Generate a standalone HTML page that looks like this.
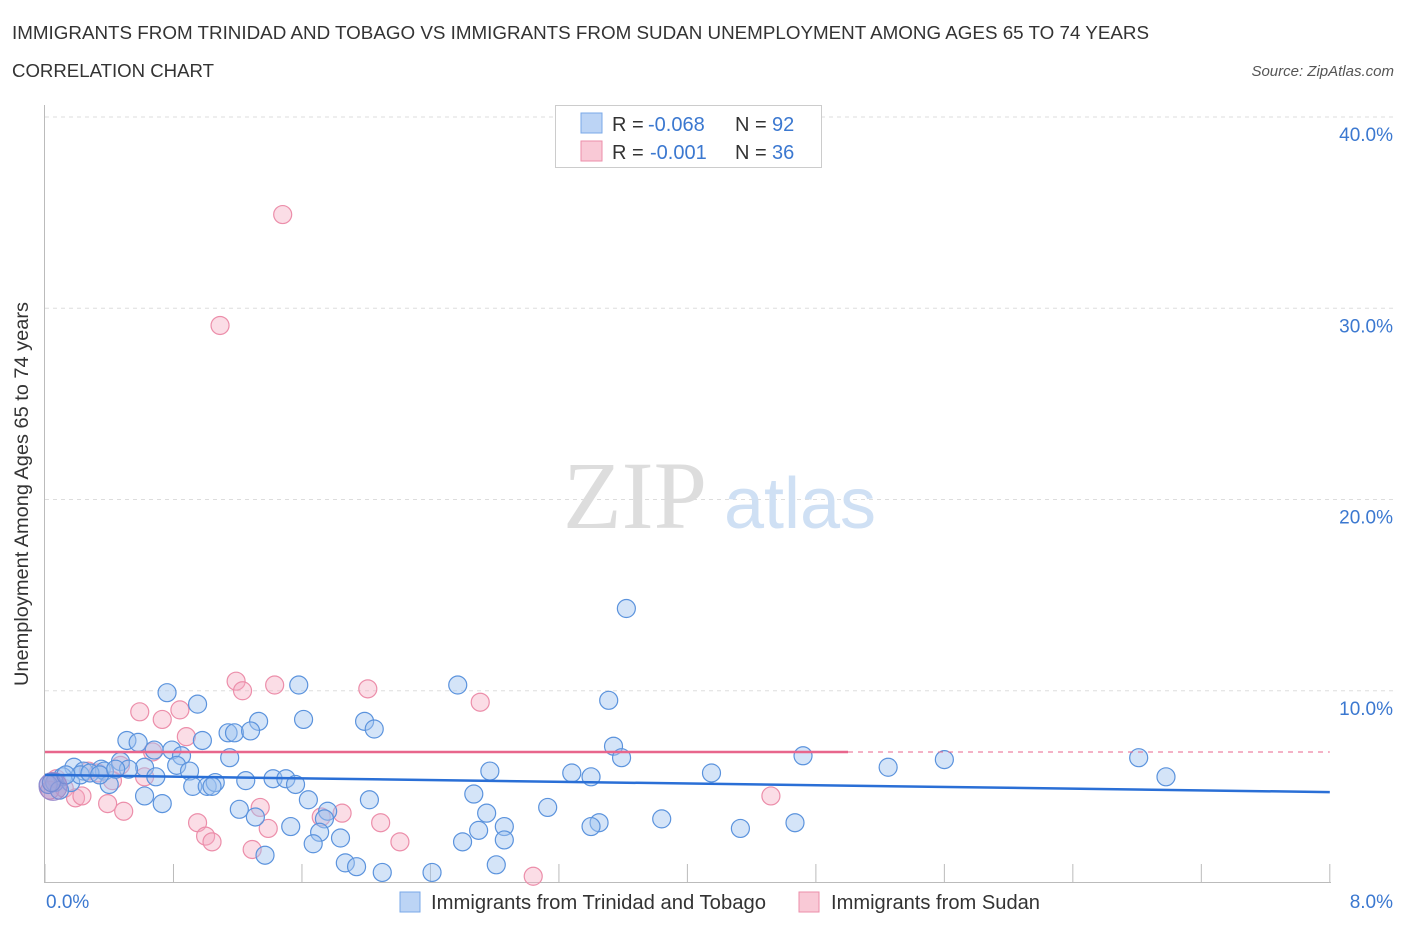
<!DOCTYPE html>
<html><head><meta charset="utf-8"><style>
body{margin:0;background:#fff;font-family:"Liberation Sans",sans-serif;}
svg{display:block}
</style></head><body>
<svg id="chart" width="1406" height="930" xmlns="http://www.w3.org/2000/svg">
<text x="12" y="39" font-size="18" fill="#333" textLength="1137" lengthAdjust="spacingAndGlyphs">IMMIGRANTS FROM TRINIDAD AND TOBAGO VS IMMIGRANTS FROM SUDAN UNEMPLOYMENT AMONG AGES 65 TO 74 YEARS</text>
<text x="12" y="77" font-size="18" fill="#333" textLength="202" lengthAdjust="spacingAndGlyphs">CORRELATION CHART</text>
<text x="1394" y="76" font-size="15" fill="#555" font-style="italic" text-anchor="end">Source: ZipAtlas.com</text>
<text x="28" y="494" font-size="19" fill="#333" text-anchor="middle" textLength="384" lengthAdjust="spacingAndGlyphs" transform="rotate(-90 28 494)">Unemployment Among Ages 65 to 74 years</text>
<g id="grid"></g>
<text x="635" y="528" font-size="96" fill="#ddd" font-family="Liberation Serif,serif" text-anchor="middle">ZIP</text>
<text x="800" y="528" font-size="72" fill="#cfe0f4" text-anchor="middle">atlas</text>
<g id="points"></g>
<g id="lines"></g>
<g>
<rect x="555.5" y="105.5" width="266" height="62" fill="#fff" stroke="#ccc"/>
<rect x="581" y="113" width="21" height="20" fill="#bcd4f5" stroke="#7aa8e8"/>
<text y="131" font-size="20" fill="#333"><tspan x="612">R =</tspan><tspan x="648" fill="#3b78d0">-0.068</tspan><tspan x="735">N =</tspan><tspan x="772" fill="#3b78d0">92</tspan></text>
<rect x="581" y="141" width="21" height="20" fill="#f9c9d6" stroke="#ec8eaa"/>
<text y="159" font-size="20" fill="#333"><tspan x="612">R =</tspan><tspan x="650" fill="#3b78d0">-0.001</tspan><tspan x="735">N =</tspan><tspan x="772" fill="#3b78d0">36</tspan></text>
</g>
<g>
<rect x="400" y="892" width="20" height="20" fill="#bcd4f5" stroke="#7aa8e8"/>
<text x="431" y="909" font-size="20" fill="#333" textLength="335" lengthAdjust="spacingAndGlyphs">Immigrants from Trinidad and Tobago</text>
<rect x="799" y="892" width="20" height="20" fill="#f9c9d6" stroke="#ec8eaa"/>
<text x="831" y="909" font-size="20" fill="#333" textLength="209" lengthAdjust="spacingAndGlyphs">Immigrants from Sudan</text>
</g>
</svg>
<script>
const xTicks=[0,1,2,3,4,5,6,7,8];
const yTicks=[10,20,30,40];
const blueX=[3.62,2.57,1.58,0.76,0.95,1.61,1.33,1.99,2.05,3.51,1.14,1.18,1.28,0.51,0.58,0.98,0.68,0.79,3.54,3.59,4.72,5.6,6.81,6.98,5.25,4.15,3.28,3.4,2.77,0.85,0.82,0.9,1.15,0.47,0.62,0.18,0.35,0.24,0.52,0.37,0.11,0.06,0.16,0.4,0.69,1.25,1.42,1.5,1.56,0.92,1.01,1.06,1.04,0.62,0.73,1.21,1.31,1.64,2.02,2.67,3.13,2.75,1.76,1.74,1.53,1.71,1.84,2.7,2.86,2.6,2.86,3.45,3.4,3.84,4.33,4.67,1.67,1.37,1.87,1.94,2.1,2.41,2.81,0.22,0.02,0.09,0.04,0.28,0.34,0.44,0.13];
const blueY=[14.3,10.3,10.3,9.9,9.3,8.5,8.4,8.4,8.0,9.5,7.8,7.8,7.9,7.4,7.3,7.4,6.9,6.9,7.1,6.5,6.6,6.4,6.5,5.5,6.0,5.7,5.7,5.5,5.8,6.6,6.1,5.8,6.5,6.3,6.0,6.0,5.9,5.8,5.9,5.8,5.5,5.2,5.2,5.1,5.5,5.3,5.4,5.4,5.1,5.0,5.0,5.2,5.0,4.5,4.1,3.8,3.4,4.3,4.3,4.6,3.9,3.6,3.7,3.3,2.9,2.6,2.3,2.7,2.9,2.1,2.2,3.1,2.9,3.3,2.8,3.1,2.0,1.4,1.0,0.8,0.5,0.5,0.9,5.6,5.1,4.8,5.2,5.7,5.6,5.9,5.6];
const pinkX=[1.48,1.09,1.19,1.23,1.43,2.01,2.71,0.59,0.73,0.84,0.88,0.67,0.47,0.27,0.62,0.42,0.07,0.12,0.19,0.23,0.39,0.49,0.95,1.0,1.04,1.34,1.39,1.29,1.72,1.85,2.09,2.21,3.04,4.52,0.03,0.33];
const pinkY=[34.9,29.1,10.5,10.0,10.3,10.1,9.4,8.9,8.5,9.0,7.6,6.8,6.1,5.8,5.5,5.3,5.4,4.9,4.4,4.5,4.1,3.7,3.1,2.4,2.1,3.9,2.8,1.7,3.4,3.6,3.1,2.1,0.3,4.5,4.8,5.7];
const blueFit=[5.6,4.7], pinkFit=[6.8,6.8];
const X=v=>45+v*160.6, Y=v=>882-v*19.125;
const NS='http://www.w3.org/2000/svg';
function mk(t,a,p){const e=document.createElementNS(NS,t);for(const k in a)e.setAttribute(k,a[k]);p.appendChild(e);return e;}
const grid=document.getElementById('grid');
yTicks.forEach(t=>{const l=mk('line',{x1:45,x2:1394,y1:Y(t),y2:Y(t),stroke:'#ddd','stroke-dasharray':'4,4'},grid);


const tx=mk('text',{x:1393,y:Y(t)+24,'font-size':19,fill:'#3b78d0','text-anchor':'end'},grid);tx.textContent=t.toFixed(1)+'%';

});
const ax=mk('line',{x1:44.5,x2:44.5,y1:105,y2:882,stroke:'#bbb'},grid);


const bx=mk('line',{x1:44,x2:1331,y1:882.5,y2:882.5,stroke:'#bbb'},grid);


for(let i=0;i<=10;i++){const v=i*0.8;const tk=mk('line',{x1:X(v),x2:X(v),y1:864,y2:882,stroke:'#bbb'},grid);

}
[[0,'start',46],[8,'end',1393]].forEach(([v,a,x])=>{const t=mk('text',{x:x,y:908,'font-size':19,fill:'#3b78d0','text-anchor':a},grid);t.textContent=v.toFixed(1)+'%';

});
const pts=document.getElementById('points');
pinkX.forEach((x,i)=>{const c=mk('circle',{cx:X(x),cy:Y(pinkY[i]),r:9,fill:'rgba(246,170,192,0.4)',stroke:'#ec8eaa','stroke-width':1.2},pts);

});
blueX.forEach((x,i)=>{const c=mk('circle',{cx:X(x),cy:Y(blueY[i]),r:9,fill:'rgba(160,195,240,0.45)',stroke:'#5b93dd','stroke-width':1.2},pts);

});
const big=mk('circle',{cx:X(0.05),cy:Y(5.0),r:14,fill:'rgba(150,130,200,0.45)',stroke:'#9a8acb'},pts);


const ln=document.getElementById('lines');
const b=mk('line',{x1:X(0),x2:X(8),y1:Y(blueFit[0]),y2:Y(blueFit[1]),stroke:'#2a6fd6','stroke-width':2.5},ln);


const p=mk('line',{x1:X(0),x2:X(5.0),y1:Y(pinkFit[0]),y2:Y(pinkFit[0]),stroke:'#e8668c','stroke-width':2.5},ln);


const pd=mk('line',{x1:X(5.0),x2:X(8),y1:Y(pinkFit[0]),y2:Y(pinkFit[1]),stroke:'#e8668c','stroke-width':1,'stroke-dasharray':'5,5'},ln);


</script>
</body></html>
